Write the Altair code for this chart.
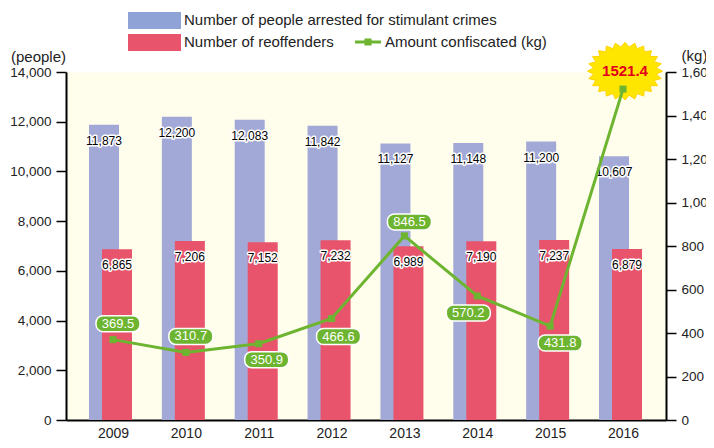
import altair as alt
import pandas as pd
import numpy as np

# ---------------- data ----------------
years = [2009, 2010, 2011, 2012, 2013, 2014, 2015, 2016]
arrested = [11873, 12200, 12083, 11842, 11127, 11148, 11200, 10607]
reoffenders = [6865, 7206, 7152, 7232, 6989, 7190, 7237, 6879]
confiscated = [369.5, 310.7, 350.9, 466.6, 846.5, 570.2, 431.8, 1521.4]
people_ticks = [0, 2000, 4000, 6000, 8000, 10000, 12000, 14000]
kg_ticks = [0, 200, 400, 600, 800, 1000, 1200, 1400, 1600]
legend_labels = ["Number of people arrested for stimulant crimes",
                 "Number of reoffenders", "Amount confiscated (kg)"]

# ---------------- layout / style ----------------
box_dx = [5, 5, 8, 7, 5, -9, 10]
box_dy = [-16, -16, 16, 18, -14, 17, 17]
BLUE = "#A3A9D6"
BLUE_LEG = "#8FA3D6"
RED = "#E8546B"
GREEN = "#6DB530"
FONT = "Liberation Sans"
TXT = "#222222"

df = pd.DataFrame({"year": years, "arrested": arrested,
                   "reoffenders": reoffenders, "kg": confiscated})
df["kg_label"] = [f"{v:.1f}" for v in confiscated]

X = alt.X("year:Q",
          scale=alt.Scale(domain=[2008.355, 2016.590], nice=False, zero=False, padding=0),
          axis=alt.Axis(values=years, format="d", title=None, grid=False, ticks=False,
                        domainColor="black", domainWidth=2, labelFontSize=14,
                        labelPadding=6, labelColor=TXT, labelFont=FONT))

axis_common = dict(grid=False, tickSize=10, tickColor="black", tickWidth=1.5,
                   domainColor="black", domainWidth=2, labelFontSize=13.5,
                   labelPadding=5, labelColor=TXT, labelFont=FONT,
                   titleAngle=0, titleAlign="center", titleBaseline="middle",
                   titleFontSize=15, titleFontWeight="normal", titleColor=TXT,
                   titleFont=FONT)

left_axis = alt.Axis(values=people_ticks, format=",d", title="(people)",
                     titleX=-28, titleY=-16, orient="left", **axis_common)
right_axis = alt.Axis(values=kg_ticks, format=",d", title="(kg)",
                      titleX=28, titleY=-17, orient="right", **axis_common)

pscale = alt.Scale(domain=[0, 14000], nice=False, padding=0)
kscale = alt.Scale(domain=[0, 1600], nice=False, padding=0)


def YP(field):
    return alt.Y(f"{field}:Q", scale=pscale, axis=left_axis)


YK = alt.Y("kg:Q", scale=kscale, axis=right_axis)

base = alt.Chart(df)

blue = base.mark_bar(size=30, color=BLUE, xOffset=-9).encode(x=X, y=YP("arrested"))
red = base.mark_bar(size=30, color=RED, xOffset=4).encode(x=X, y=YP("reoffenders"))


def bar_text(field, dx):
    halo = base.mark_text(fontSize=12, font=FONT, dx=dx, dy=16, baseline="middle",
                          fill="white", stroke="white", strokeWidth=3,
                          strokeJoin="round").encode(
        x=X, y=YP(field), text=alt.Text(f"{field}:Q", format=",d"))
    txt = base.mark_text(fontSize=12, font=FONT, dx=dx, dy=16, baseline="middle",
                         fill="black").encode(
        x=X, y=YP(field), text=alt.Text(f"{field}:Q", format=",d"))
    return [halo, txt]


bars_group = alt.layer(blue, red, *bar_text("arrested", -9), *bar_text("reoffenders", 4))

# starburst shape
n = 24
pts = []
for k in range(2 * n):
    a = np.pi * k / n
    r = 1.0 if k % 2 == 0 else 0.84
    pts.append((r * np.cos(a), 0.77 * r * np.sin(a)))
STAR = "M" + " L".join(f"{x:.3f},{y:.3f}" for x, y in pts) + " Z"

BOX = ("M-0.682,-0.364 L0.682,-0.364 A0.318,0.318 0 0 1 1,-0.045 L1,0.045 "
       "A0.318,0.318 0 0 1 0.682,0.364 L-0.682,0.364 A0.318,0.318 0 0 1 -1,0.045 "
       "L-1,-0.045 A0.318,0.318 0 0 1 -0.682,-0.364 Z")

last = years[-1]
burst = base.mark_point(shape=STAR, size=5625, filled=True, fill="#FFE600",
                        stroke="#FFD400", strokeWidth=1, opacity=1,
                        xOffset=2, yOffset=-18).encode(x=X, y=YK).transform_filter(
    alt.datum.year == last)
burst_txt = base.mark_text(fontSize=15, fontWeight="bold", font=FONT, color="#E2001A",
                           dx=2, dy=-18, baseline="middle").encode(
    x=X, y=YK, text="kg_label:N").transform_filter(alt.datum.year == last)

line = base.mark_line(color=GREEN, strokeWidth=3).encode(x=X, y=YK)
squares = base.mark_square(color=GREEN, size=50, opacity=1).encode(x=X, y=YK)

boxes = []
for i in range(len(box_dx)):
    boxes.append(base.mark_point(shape=BOX, size=1936, filled=True, fill=GREEN,
                                 stroke="white", strokeWidth=1.5, opacity=1,
                                 xOffset=box_dx[i], yOffset=box_dy[i]).encode(
        x=X, y=YK).transform_filter(alt.datum.year == years[i]))
    boxes.append(base.mark_text(fontSize=13, font=FONT, color="white",
                                dx=box_dx[i], dy=box_dy[i], baseline="middle").encode(
        x=X, y=YK, text="kg_label:N").transform_filter(alt.datum.year == years[i]))

line_group = alt.layer(burst, line, squares, burst_txt, *boxes)

# ---------------- legend ----------------
one = pd.DataFrame({"k": [0]})
leg = [
    alt.Chart(one).mark_rect(color=BLUE_LEG).encode(
        x=alt.value(62), x2=alt.value(115), y=alt.value(-60), y2=alt.value(-43)),
    alt.Chart(one).mark_rect(color=RED).encode(
        x=alt.value(62), x2=alt.value(115), y=alt.value(-38), y2=alt.value(-21)),
    alt.Chart(one).mark_text(align="left", baseline="middle", fontSize=15, font=FONT,
                             color=TXT, text=legend_labels[0]).encode(
        x=alt.value(118), y=alt.value(-52)),
    alt.Chart(one).mark_text(align="left", baseline="middle", fontSize=15, font=FONT,
                             color=TXT, text=legend_labels[1]).encode(
        x=alt.value(118), y=alt.value(-30)),
    alt.Chart(one).mark_rule(color=GREEN, strokeWidth=3).encode(
        x=alt.value(289), x2=alt.value(315), y=alt.value(-30)),
    alt.Chart(one).mark_square(color=GREEN, size=50, opacity=1).encode(
        x=alt.value(302), y=alt.value(-30)),
    alt.Chart(one).mark_text(align="left", baseline="middle", fontSize=15, font=FONT,
                             color=TXT, text=legend_labels[2]).encode(
        x=alt.value(319), y=alt.value(-30)),
]

chart = alt.layer(bars_group, line_group, *leg).resolve_scale(
    y="independent"
).properties(
    width=600, height=348,
    padding={"left": 58, "top": 64, "right": 40, "bottom": 20},
    autosize=alt.AutoSizeParams(type="none"),
).configure_view(fill="#FFFDEC", stroke="transparent")

chart.save("out.html", embed_options={"renderer": "svg", "actions": False})
